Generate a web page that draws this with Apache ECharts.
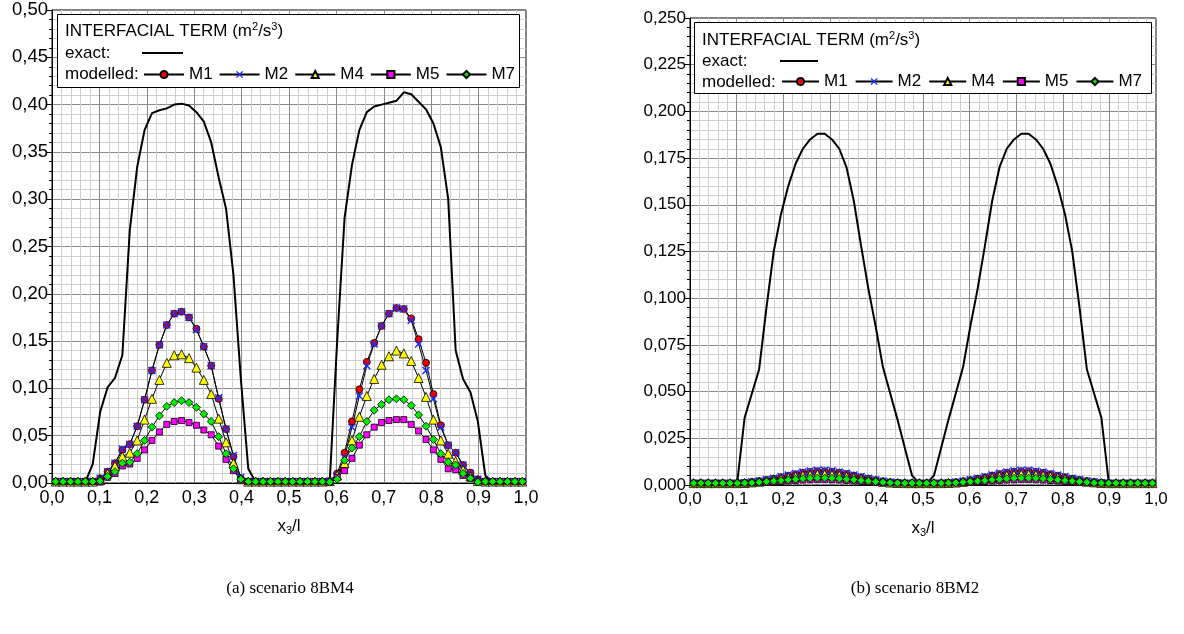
<!DOCTYPE html>
<html><head><meta charset="utf-8">
<script src="https://cdn.jsdelivr.net/npm/echarts@6/dist/echarts.min.js"></script>
<style>html,body{margin:0;padding:0;background:#fff}#c{width:1184px;height:634px}</style>
</head><body><div id="c"></div><script>
// cell-centred positions x3/l
const X = [0.0078,0.0234,0.0391,0.0547,0.0703,0.0859,0.1016,0.1172,0.1328,0.1484,0.1641,0.1797,0.1953,0.2109,0.2266,0.2422,0.2578,0.2734,0.2891,0.3047,0.3203,0.3359,0.3516,0.3672,0.3828,0.3984,0.4141,0.4297,0.4453,0.4609,0.4766,0.4922,0.5078,0.5234,0.5391,0.5547,0.5703,0.5859,0.6016,0.6172,0.6328,0.6484,0.6641,0.6797,0.6953,0.7109,0.7266,0.7422,0.7578,0.7734,0.7891,0.8047,0.8203,0.8359,0.8516,0.8672,0.8828,0.8984,0.9141,0.9297,0.9453,0.9609,0.9766,0.9922];

// (a) scenario 8BM4
const A_EXACT = [0.001,0.001,0.001,0.001,0.001,0.020,0.075,0.101,0.111,0.135,0.267,0.334,0.373,0.391,0.394,0.396,0.400,0.401,0.399,0.392,0.382,0.360,0.323,0.290,0.220,0.110,0.015,0.001,0.001,0.001,0.001,0.001,0.001,0.001,0.001,0.001,0.001,0.001,0.150,0.280,0.336,0.373,0.392,0.398,0.400,0.402,0.404,0.413,0.411,0.403,0.395,0.380,0.355,0.300,0.140,0.110,0.096,0.065,0.008,0.001,0.001,0.001,0.001,0.001];
const A_M1 = [0.0015,0.0015,0.0015,0.0015,0.0015,0.0015,0.005,0.012,0.021,0.035,0.041,0.060,0.088,0.119,0.146,0.167,0.179,0.181,0.175,0.163,0.144,0.124,0.089,0.057,0.028,0.005,0.0015,0.0015,0.0015,0.0015,0.0015,0.0015,0.0015,0.0015,0.0015,0.0015,0.0015,0.002,0.010,0.032,0.065,0.099,0.128,0.148,0.166,0.179,0.185,0.184,0.174,0.152,0.127,0.094,0.061,0.040,0.032,0.019,0.011,0.004,0.0015,0.0015,0.0015,0.0015,0.0015,0.0015];
const A_M2 = [0.0015,0.0015,0.0015,0.0015,0.0015,0.0015,0.005,0.012,0.021,0.036,0.041,0.060,0.088,0.119,0.146,0.167,0.179,0.181,0.175,0.162,0.144,0.124,0.090,0.057,0.029,0.006,0.0015,0.0015,0.0015,0.0015,0.0015,0.0015,0.0015,0.0015,0.0015,0.0015,0.0015,0.002,0.008,0.027,0.059,0.092,0.124,0.147,0.166,0.179,0.185,0.184,0.172,0.147,0.119,0.089,0.059,0.040,0.032,0.019,0.010,0.004,0.0015,0.0015,0.0015,0.0015,0.0015,0.0015];
const A_M4 = [0.0015,0.0015,0.0015,0.0015,0.0015,0.0015,0.003,0.010,0.018,0.028,0.032,0.045,0.067,0.089,0.109,0.127,0.135,0.136,0.132,0.122,0.109,0.094,0.068,0.043,0.021,0.004,0.0015,0.0015,0.0015,0.0015,0.0015,0.0015,0.0015,0.0015,0.0015,0.0015,0.0015,0.002,0.008,0.021,0.045,0.070,0.092,0.110,0.125,0.134,0.140,0.137,0.129,0.111,0.091,0.067,0.045,0.031,0.023,0.014,0.007,0.002,0.0015,0.0015,0.0015,0.0015,0.0015,0.0015];
const A_M5 = [0.0015,0.0015,0.0015,0.0015,0.0015,0.0015,0.001,0.006,0.010,0.018,0.020,0.026,0.035,0.045,0.054,0.062,0.065,0.066,0.064,0.061,0.056,0.051,0.039,0.025,0.013,0.003,0.0015,0.0015,0.0015,0.0015,0.0015,0.0015,0.0015,0.0015,0.0015,0.0015,0.0015,0.001,0.006,0.013,0.026,0.040,0.051,0.059,0.064,0.066,0.067,0.067,0.062,0.055,0.046,0.035,0.025,0.015,0.014,0.008,0.005,0.002,0.0015,0.0015,0.0015,0.0015,0.0015,0.0015];
const A_M7 = [0.0015,0.0015,0.0015,0.0015,0.0015,0.0015,0.002,0.007,0.012,0.021,0.022,0.031,0.045,0.059,0.071,0.081,0.085,0.087,0.085,0.080,0.073,0.065,0.049,0.031,0.015,0.004,0.0015,0.0015,0.0015,0.0015,0.0015,0.0015,0.0015,0.0015,0.0015,0.0015,0.0015,0.001,0.004,0.024,0.037,0.049,0.065,0.077,0.083,0.088,0.089,0.088,0.082,0.072,0.060,0.046,0.031,0.022,0.019,0.010,0.005,0.001,0.0015,0.0015,0.0015,0.0015,0.0015,0.0015];

// (b) scenario 8BM2
const B_EXACT = [0.001,0.001,0.001,0.001,0.001,0.001,0.002,0.036,0.049,0.062,0.095,0.125,0.145,0.160,0.172,0.180,0.185,0.188,0.188,0.185,0.180,0.170,0.152,0.128,0.105,0.085,0.063,0.049,0.035,0.020,0.005,0.001,0.001,0.005,0.020,0.035,0.049,0.063,0.085,0.105,0.128,0.152,0.170,0.180,0.185,0.188,0.188,0.185,0.180,0.172,0.160,0.145,0.125,0.095,0.062,0.049,0.036,0.002,0.001,0.001,0.001,0.001,0.001,0.001];
const B_M1 = [0.001,0.001,0.001,0.001,0.001,0.001,0.001,0.0012,0.0016,0.0021,0.0027,0.0034,0.0042,0.0050,0.0058,0.0065,0.0070,0.0074,0.0074,0.0071,0.0066,0.0059,0.0051,0.0042,0.0034,0.0026,0.0020,0.0015,0.0012,0.001,0.001,0.001,0.001,0.001,0.001,0.0012,0.0015,0.0020,0.0026,0.0034,0.0042,0.0051,0.0059,0.0066,0.0071,0.0074,0.0074,0.0070,0.0065,0.0058,0.0050,0.0042,0.0034,0.0027,0.0021,0.0016,0.0012,0.001,0.001,0.001,0.001,0.001,0.001,0.001];
const B_M2 = [0.001,0.001,0.001,0.001,0.001,0.001,0.001,0.0012,0.0017,0.0022,0.0029,0.0036,0.0045,0.0054,0.0062,0.0069,0.0075,0.0079,0.0079,0.0076,0.0070,0.0063,0.0054,0.0045,0.0036,0.0028,0.0021,0.0016,0.0012,0.001,0.001,0.001,0.001,0.001,0.001,0.0012,0.0016,0.0021,0.0028,0.0036,0.0045,0.0054,0.0063,0.0070,0.0076,0.0079,0.0079,0.0075,0.0069,0.0062,0.0054,0.0045,0.0036,0.0029,0.0022,0.0017,0.0012,0.001,0.001,0.001,0.001,0.001,0.001,0.001];
const B_M4 = [0.001,0.001,0.001,0.001,0.001,0.001,0.001,0.0011,0.0014,0.0018,0.0023,0.0028,0.0034,0.0040,0.0046,0.0051,0.0054,0.0057,0.0057,0.0055,0.0051,0.0046,0.0040,0.0034,0.0028,0.0022,0.0017,0.0013,0.0011,0.001,0.001,0.001,0.001,0.001,0.001,0.0011,0.0013,0.0017,0.0022,0.0028,0.0034,0.0040,0.0046,0.0051,0.0055,0.0057,0.0057,0.0054,0.0051,0.0046,0.0040,0.0034,0.0028,0.0023,0.0018,0.0014,0.0011,0.001,0.001,0.001,0.001,0.001,0.001,0.001];
const B_M5 = [0.001,0.001,0.001,0.001,0.001,0.001,0.001,0.0010,0.0011,0.0013,0.0015,0.0017,0.0019,0.0022,0.0024,0.0026,0.0027,0.0028,0.0028,0.0027,0.0026,0.0024,0.0022,0.0019,0.0017,0.0015,0.0013,0.0011,0.0010,0.001,0.001,0.001,0.001,0.001,0.001,0.0010,0.0011,0.0013,0.0015,0.0017,0.0019,0.0022,0.0024,0.0026,0.0027,0.0028,0.0028,0.0027,0.0026,0.0024,0.0022,0.0019,0.0017,0.0015,0.0013,0.0011,0.0010,0.001,0.001,0.001,0.001,0.001,0.001,0.001];
const B_M7 = [0.001,0.001,0.001,0.001,0.001,0.001,0.001,0.0011,0.0012,0.0015,0.0018,0.0021,0.0024,0.0028,0.0031,0.0034,0.0036,0.0037,0.0037,0.0036,0.0034,0.0031,0.0028,0.0024,0.0021,0.0018,0.0015,0.0012,0.0011,0.001,0.001,0.001,0.001,0.001,0.001,0.0011,0.0012,0.0015,0.0018,0.0021,0.0024,0.0028,0.0031,0.0034,0.0036,0.0037,0.0037,0.0036,0.0034,0.0031,0.0028,0.0024,0.0021,0.0018,0.0015,0.0012,0.0011,0.001,0.001,0.001,0.001,0.001,0.001,0.001];

const F = 'Liberation Sans, Arial, sans-serif';
const XSYM = 'path://M0,1.3L1.3,0L5,3.7L8.7,0L10,1.3L6.3,5L10,8.7L8.7,10L5,6.3L1.3,10L0,8.7L3.7,5Z';
const STY = {
  M1: {symbol:'circle', size:7, fill:'#ee0000', border:true},
  M2: {symbol:XSYM, size:8, fill:'#1a2cff', border:false},
  M4: {symbol:'triangle', size:9, fill:'#ffff00', border:true},
  M5: {symbol:'rect', size:6, fill:'#ff00ff', border:true},
  M7: {symbol:'diamond', size:8, fill:'#00ee00', border:true}
};

function modelled(name, vals, gi) {
  const s = STY[name];
  return {
    name, type:'line', xAxisIndex:gi, yAxisIndex:gi,
    data: X.map((x,i)=>[x, vals[i]]),
    symbol: s.symbol, symbolSize: s.size, showSymbol:true,
    lineStyle:{color:'#000', width:1},
    itemStyle:{color:s.fill, borderColor: s.border ? '#000' : s.fill, borderWidth: s.border ? 0.8 : 0},
    emphasis:{disabled:true}, z:3
  };
}
function exact(vals, gi) {
  return {
    name:'exact', type:'line', xAxisIndex:gi, yAxisIndex:gi,
    data: X.map((x,i)=>[x, vals[i]]),
    symbol:'none', showSymbol:false,
    lineStyle:{color:'#000', width:2},
    itemStyle:{color:'#000'},
    emphasis:{disabled:true}, z:2
  };
}
function xAxis(gi, fs) {
  return {
    type:'value', gridIndex:gi, min:0, max:1, interval:0.1,
    axisLine:{show:true, lineStyle:{color:'#000', width:1}},
    axisTick:{show:false},
    minorTick:{show:false, splitNumber:5},
    splitLine:{show:true, lineStyle:{color:'#8a8a8a', width:1}},
    minorSplitLine:{show:true, lineStyle:{color:'#cfcfcf', width:1}},
    axisLabel:{color:'#000', fontFamily:F, fontSize:fs, margin:6,
      formatter: v => v.toFixed(1).replace('.', ',')},
    name:'x{s|3}/l', nameLocation:'middle', nameGap:34,
    nameTextStyle:{color:'#000', fontFamily:F, fontSize:17,
      rich:{s:{fontSize:11, fontFamily:F, color:'#000', verticalAlign:'bottom', padding:[8,0,0,0]}}}
  };
}
function yAxis(gi, max, interval, dec, fs) {
  return {
    type:'value', gridIndex:gi, min:0, max, interval,
    axisLine:{show:true, lineStyle:{color:'#000', width:1}},
    axisTick:{show:true, inside:false, length:5, lineStyle:{color:'#000'}},
    minorTick:{show:true, splitNumber:5, length:3, lineStyle:{color:'#000'}},
    splitLine:{show:true, lineStyle:{color:'#8a8a8a', width:1}},
    minorSplitLine:{show:true, lineStyle:{color:'#cfcfcf', width:1}},
    axisLabel:{color:'#000', fontFamily:F, fontSize:fs, margin:4,
      formatter: v => v.toFixed(dec).replace('.', ',')}
  };
}
function legendBlock(left, topModel, topExact, w, gap) {
  return [
    {data:['M1','M2','M4','M5','M7'], left, top:topModel, orient:'horizontal',
     itemWidth:w, itemHeight:9, itemGap:gap, padding:0, selectedMode:false, z:20,
     textStyle:{fontSize:17, color:'#000', fontFamily:F}},
    {data:[{name:'exact', icon:'rect'}], left:left-1, top:topExact, itemWidth:w+1, itemHeight:2, padding:0,
     selectedMode:false, z:20, formatter:()=>'', textStyle:{fontSize:2}}
  ];
}
function legendFrame(x, y, w, h, rows) {
  const g = [{type:'rect', shape:{x:x+0.5, y:y+0.5, width:w, height:h},
              style:{fill:'#fff', stroke:'#000', lineWidth:1}, z:15}];
  const txt = ['INTERFACIAL TERM (m{sup|2}/s{sup|3})', 'exact:', 'modelled:'];
  txt.forEach((t,k)=>{
    g.push({type:'text', x:x+8, y:rows[k], z:16,
      style:{text:t, fill:'#000', font:'17px ' + F, verticalAlign:'middle', textVerticalAlign:'middle',
        rich:{sup:{fontSize:11, fontFamily:F, fill:'#000', verticalAlign:'top', padding:[0,0,9,0]}}}});
  });
  return g;
}

const chart = echarts.init(document.getElementById('c'), null, {renderer:'canvas'});
chart.setOption({
  animation:false,
  backgroundColor:'#fff',
  grid:[
    {left:52, top:10, width:474, height:473, show:true, borderColor:'#000', borderWidth:1, backgroundColor:'transparent'},
    {left:690, top:18, width:466, height:467, show:true, borderColor:'#000', borderWidth:1, backgroundColor:'transparent'}
  ],
  xAxis:[xAxis(0, 18), xAxis(1, 17)],
  yAxis:[yAxis(0, 0.5, 0.05, 2, 18.5), yAxis(1, 0.25, 0.025, 3, 17)],
  legend:[...legendBlock(143, 66, 52, 40, 6), ...legendBlock(781, 73, 60, 37, 7)],
  series:[
    exact(A_EXACT,0),
    modelled('M1',A_M1,0), modelled('M2',A_M2,0), modelled('M4',A_M4,0), modelled('M5',A_M5,0), modelled('M7',A_M7,0),
    exact(B_EXACT,1),
    modelled('M1',B_M1,1), modelled('M2',B_M2,1), modelled('M4',B_M4,1), modelled('M5',B_M5,1), modelled('M7',B_M7,1)
  ],
  graphic:[
    ...legendFrame(57, 14, 462, 73, [31, 53, 74]),
    ...legendFrame(694, 22, 457, 71, [40, 61, 82]),
    {type:'text', x:290, y:589, z:16, style:{text:'(a) scenario 8BM4', fill:'#000', font:'17px Liberation Serif, Times New Roman, serif', textAlign:'center', textVerticalAlign:'middle', align:'center', verticalAlign:'middle'}},
    {type:'text', x:915, y:589, z:16, style:{text:'(b) scenario 8BM2', fill:'#000', font:'17px Liberation Serif, Times New Roman, serif', textAlign:'center', textVerticalAlign:'middle', align:'center', verticalAlign:'middle'}}
  ]
});
</script></body></html>
